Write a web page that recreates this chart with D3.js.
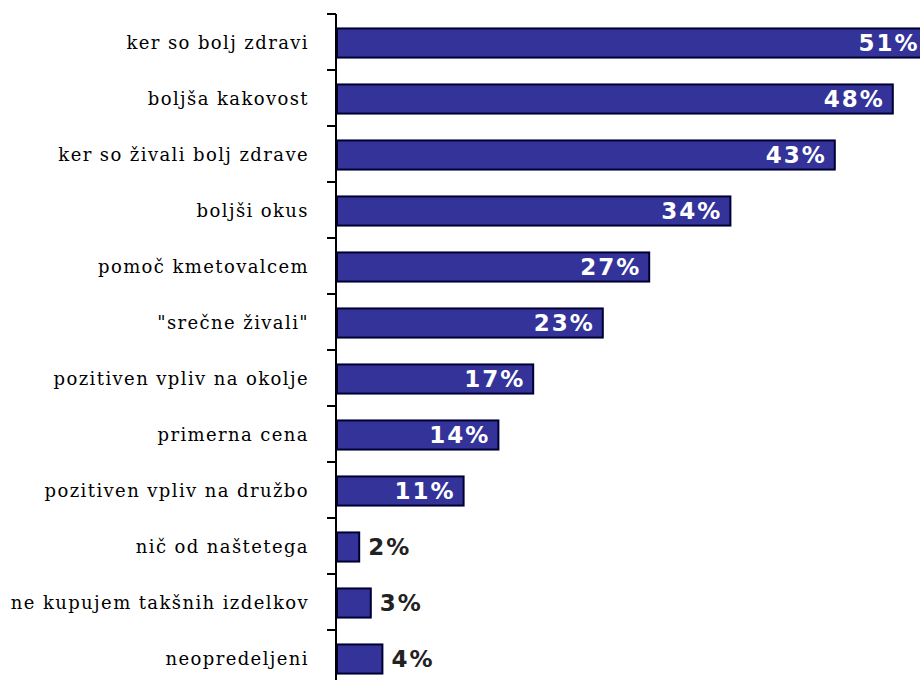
<!DOCTYPE html>
<html>
<head>
<meta charset="utf-8">
<title>Razlogi</title>
<script src="https://d3js.org/d3.v7.min.js"></script>
<style>
  body { margin: 0; background: #fff; }
  .lbl { font-family: "DejaVu Serif", serif; font-size: 18px; letter-spacing: 1.4px; fill: #000; }
  .val { font-family: "DejaVu Sans", Verdana, sans-serif; font-weight: bold; font-size: 23px; letter-spacing: 2px; }
</style>
</head>
<body>
<svg width="920" height="680"></svg>
<script>
var categories = ["ker so bolj zdravi", "boljša kakovost", "ker so živali bolj zdrave", "boljši okus",
  "pomoč kmetovalcem", "\"srečne živali\"", "pozitiven vpliv na okolje", "primerna cena",
  "pozitiven vpliv na družbo", "nič od naštetega", "ne kupujem takšnih izdelkov", "neopredeljeni"];
var values = [51, 48, 43, 34, 27, 23, 17, 14, 11, 2, 3, 4];

var svg = d3.select("svg");
var x0 = 336, yTop = 14, step = 56;

var x = d3.scaleLinear().domain([0, 50]).range([x0, x0 + 580]);
var y = d3.scaleBand().domain(categories).range([yTop, yTop + step * categories.length])
  .paddingInner(0.48).paddingOuter(0.24);

// bars
svg.selectAll(".bar").data(values).enter().append("rect")
  .attr("x", x(0) + 1)
  .attr("y", function(d, i) { return y(categories[i]) + 1; })
  .attr("width", function(d) { return x(d) - x(0) - 1; })
  .attr("height", y.bandwidth())
  .attr("fill", "#333399")
  .attr("stroke", "#000033")
  .attr("stroke-width", 2);

// axis
var axis = svg.append("g").attr("transform", "translate(" + x0 + ",0)");
axis.append("line").attr("x1", 0).attr("x2", 0).attr("y1", yTop).attr("y2", 690)
  .attr("stroke", "#000").attr("stroke-width", 2);
axis.selectAll(".tick").data(d3.range(categories.length)).enter().append("line")
  .attr("x1", -9).attr("x2", 0)
  .attr("y1", function(i) { return yTop + i * step; })
  .attr("y2", function(i) { return yTop + i * step; })
  .attr("stroke", "#000").attr("stroke-width", 2);

// category labels
svg.selectAll(".lbl").data(categories).enter().append("text")
  .attr("class", "lbl")
  .attr("x", 309)
  .attr("y", function(d) { return y(d) + y.bandwidth() / 2 + 1; })
  .attr("dy", "0.35em")
  .attr("text-anchor", "end")
  .text(function(d) { return d; });

// value labels
svg.selectAll(".val").data(values).enter().append("text")
  .attr("class", "val")
  .attr("x", function(d) { return d > 5 ? x(d) - 8 : x(d) + 9; })
  .attr("y", function(d, i) { return y(categories[i]) + y.bandwidth() / 2 + 1; })
  .attr("dy", "0.36em")
  .attr("text-anchor", function(d) { return d > 5 ? "end" : "start"; })
  .attr("fill", function(d) { return d > 5 ? "#fff" : "#222"; })
  .text(function(d) { return d + "%"; });
</script>
</body>
</html>
